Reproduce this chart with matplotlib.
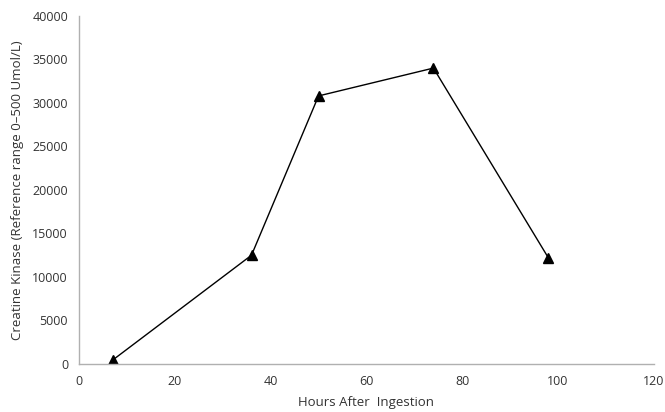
import matplotlib
matplotlib.use("Agg")
import matplotlib.pyplot as plt

hours = [7, 36, 50, 74, 98]
creatine_kinase = [450, 12500, 30800, 34000, 12200]
x_ticks = [0, 20, 40, 60, 80, 100, 120]
y_ticks = [0, 5000, 10000, 15000, 20000, 25000, 30000, 35000, 40000]

plt.rcParams["font.family"] = ["Open Sans", "DejaVu Sans"]

fig = plt.figure(figsize=(6.65, 4.12), dpi=100)
ax = fig.add_axes([0.119, 0.1165, 0.864, 0.845])

ax.plot(hours, creatine_kinase, color="black", linewidth=1.0,
        marker="^", markersize=7.5, markerfacecolor="black", markeredgecolor="black")

ax.set_xlim(0, 120)
ax.set_ylim(0, 40000)
ax.set_xticks(x_ticks)
ax.set_yticks(y_ticks)
ax.tick_params(axis="both", length=0, labelsize=9, colors="#333333", pad=8)

for side in ["top", "right"]:
    ax.spines[side].set_visible(False)
for side in ["left", "bottom"]:
    ax.spines[side].set_color("#b0b0b0")
    ax.spines[side].set_linewidth(1.0)

ax.set_xlabel("Hours After  Ingestion", fontsize=9.5, color="#333333", labelpad=6)
ax.set_ylabel("Creatine Kinase (Reference range 0\u2013500 Umol/L)", fontsize=9.5,
              color="#333333", labelpad=6)

fig.savefig("out.png", dpi=100)
